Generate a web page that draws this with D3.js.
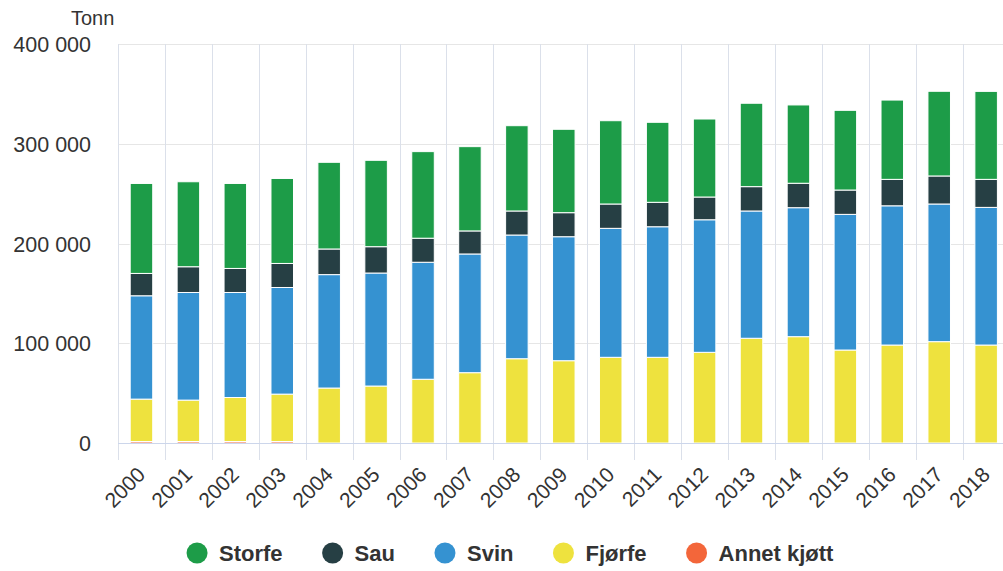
<!DOCTYPE html>
<html>
<head>
<meta charset="utf-8">
<script src="https://cdn.jsdelivr.net/npm/d3@7"></script>
<style>
  html, body { margin: 0; padding: 0; background: #fff; }
  svg { display: block; font-family: "Liberation Sans", Arial, sans-serif; }
</style>
</head>
<body>
<svg id="chart" width="1003" height="571"></svg>
<script>
// Kjøttproduksjon i Norge, tonn, etter dyreslag
const years = ["2000","2001","2002","2003","2004","2005","2006","2007","2008","2009",
               "2010","2011","2012","2013","2014","2015","2016","2017","2018"];
const storfe = [90200, 85200, 85200, 85200, 86900, 86600, 86800, 84500, 85500, 83600,
                83500, 80200, 78200, 83600, 78500, 79900, 79500, 84900, 88200];
const sau    = [22400, 25800, 24100, 24100, 25700, 26400, 24100, 23100, 24100, 24100,
                24400, 24500, 22800, 24400, 24500, 24400, 26500, 28100, 28100];
const svin   = [103600, 107900, 105300, 106900, 113700, 113300, 117300, 119000, 124000, 124300,
                129300, 130900, 132900, 127600, 129300, 136000, 139600, 138000, 138000];
const fjorfe = [42500, 41500, 44100, 47500, 55100, 57100, 63900, 70500, 84500, 82500,
                85900, 85900, 90900, 105000, 106600, 93200, 98200, 101600, 98200];
const annet  = [1500, 1500, 1500, 1500, 0, 0, 0, 0, 0, 0,
                0, 0, 0, 0, 0, 0, 0, 0, 0];
const yTicks = [0, 100000, 200000, 300000, 400000];

const seriesNames  = ["Storfe", "Sau", "Svin", "Fjørfe", "Annet kjøtt"];
const seriesColors = ["#1d9c48", "#263f44", "#3592d1", "#eee23e", "#f3663a"];
const seriesValues = [storfe, sau, svin, fjorfe, annet];

const svg = d3.select("#chart");
const plot = { left: 118, right: 1009.6, top: 44, bottom: 443 };

const x = d3.scaleBand()
  .domain(years)
  .range([plot.left, plot.right])
  .paddingInner(0.52)
  .paddingOuter(0.26);

const y = d3.scaleLinear()
  .domain([0, 400000])
  .range([plot.bottom, plot.top]);

// Rows for stacking; bottom of the stack is "Annet kjøtt", top is "Storfe"
const rows = years.map((yr, i) => {
  const r = { year: yr };
  seriesNames.forEach((n, k) => { r[n] = seriesValues[k][i]; });
  return r;
});
const stackKeys = seriesNames.slice().reverse();
const stacked = d3.stack().keys(stackKeys)(rows);
const colorOf = d3.scaleOrdinal().domain(seriesNames).range(seriesColors);

const fmt = v => d3.format(",")(v).replace(/,/g, " ");

// Horizontal grid lines
svg.append("g")
  .selectAll("line")
  .data(yTicks)
  .join("line")
  .attr("x1", plot.left).attr("x2", 1003)
  .attr("y1", d => Math.round(y(d)) + 0.5)
  .attr("y2", d => Math.round(y(d)) + 0.5)
  .attr("stroke", "#e6e6e6")
  .attr("stroke-width", 1);

// Vertical grid lines at category boundaries, running down as ticks
const step = x.step();
const bounds = d3.range(years.length + 1).map(i => plot.left + i * step);
svg.append("g")
  .selectAll("line")
  .data(bounds)
  .join("line")
  .attr("x1", d => Math.round(d) + 0.5)
  .attr("x2", d => Math.round(d) + 0.5)
  .attr("y1", plot.top)
  .attr("y2", plot.bottom + 17)
  .attr("stroke", "#dbe0ea")
  .attr("stroke-width", 1);

// Bars
svg.append("g")
  .selectAll("g")
  .data(stacked)
  .join("g")
  .attr("fill", d => colorOf(d.key))
  .selectAll("rect")
  .data(d => d.filter(s => s[1] - s[0] > 0))
  .join("rect")
  .attr("x", d => x(d.data.year))
  .attr("width", x.bandwidth())
  .attr("y", d => y(d[1]))
  .attr("height", d => y(d[0]) - y(d[1]))
  .attr("stroke", "#ffffff")
  .attr("stroke-width", 1);

// X axis line
svg.append("line")
  .attr("x1", plot.left).attr("x2", 1003)
  .attr("y1", plot.bottom + 0.5).attr("y2", plot.bottom + 0.5)
  .attr("stroke", "#ccd6eb");

// Y axis labels
svg.append("g")
  .selectAll("text")
  .data(yTicks)
  .join("text")
  .attr("x", 91)
  .attr("y", d => y(d) + 8)
  .attr("text-anchor", "end")
  .attr("font-size", 21.5)
  .attr("fill", "#333")
  .text(fmt);

svg.append("text")
  .attr("x", 71).attr("y", 25)
  .attr("font-size", 20)
  .attr("fill", "#333")
  .text("Tonn");

// X axis labels, rotated
svg.append("g")
  .selectAll("text")
  .data(years)
  .join("text")
  .attr("transform", d => `translate(${x(d) + x.bandwidth() / 2 + 5},${plot.bottom + 33}) rotate(-45)`)
  .attr("text-anchor", "end")
  .attr("font-size", 21)
  .attr("fill", "#333")
  .text(d => d);

// Legend
const legend = svg.append("g").attr("transform", "translate(0,553)");
const items = legend.selectAll("g")
  .data(seriesNames)
  .join("g");
items.append("circle")
  .attr("r", 10.5)
  .attr("cx", 0).attr("cy", 0)
  .attr("fill", d => colorOf(d));
items.append("text")
  .attr("x", 22).attr("y", 8)
  .attr("font-size", 22)
  .attr("font-weight", "bold")
  .attr("fill", "#333")
  .text(d => d);

const gap = 50;
let cursor = 0;
const offsets = [];
items.each(function () {
  offsets.push(cursor);
  const w = d3.select(this).select("text").node().getComputedTextLength();
  cursor += 22 + w + gap;
});
const totalW = cursor - gap + 10.5;
const startX = 510 - totalW / 2 + 10.5;
items.attr("transform", (d, i) => `translate(${startX + offsets[i]},0)`);
</script>
</body>
</html>
